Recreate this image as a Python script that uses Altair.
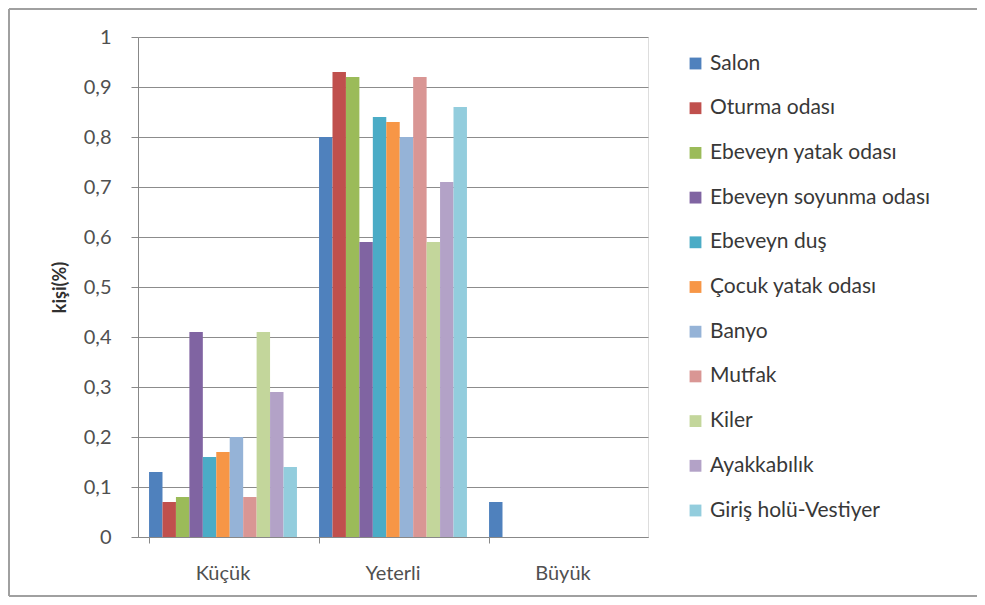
import altair as alt
import pandas as pd

categories = ["Küçük", "Yeterli", "Büyük"]
series = ["Salon", "Oturma odası", "Ebeveyn yatak odası", "Ebeveyn soyunma odası",
          "Ebeveyn duş", "Çocuk yatak odası", "Banyo", "Mutfak", "Kiler",
          "Ayakkabılık", "Giriş holü-Vestiyer"]
kucuk = [0.13, 0.07, 0.08, 0.41, 0.16, 0.17, 0.20, 0.08, 0.41, 0.29, 0.14]
yeterli = [0.80, 0.93, 0.92, 0.59, 0.84, 0.83, 0.80, 0.92, 0.59, 0.71, 0.86]
buyuk = [0.07, 0, 0, 0, 0, 0, 0, 0, 0, 0, 0]
colors = ["#4F81BD", "#C0504D", "#9BBB59", "#8064A2", "#4BACC6", "#F79646",
          "#95B3D7", "#D99694", "#C3D69B", "#B3A2C7", "#93CDDD"]
y_ticks = [0, 0.1, 0.2, 0.3, 0.4, 0.5, 0.6, 0.7, 0.8, 0.9, 1]

rows = []
for cat, vals in zip(categories, [kucuk, yeterli, buyuk]):
    for s, v in zip(series, vals):
        rows.append({"Kategori": cat, "Oda": s, "Deger": v})
df = pd.DataFrame(rows)

FONT = "Lato"

bars = alt.Chart(df).mark_bar().encode(
    x=alt.X("Kategori:N", sort=categories,
            scale=alt.Scale(paddingInner=0.13, paddingOuter=0.065),
            axis=alt.Axis(title=None, labelAngle=0, bandPosition=0,
                          domainColor="#888888", tickColor="#888888", tickSize=6,
                          labelFontSize=20, labelColor="#505050", labelFont=FONT,
                          labelPadding=20, grid=False)),
    xOffset=alt.XOffset("Oda:N", sort=series,
                        scale=alt.Scale(paddingInner=0, paddingOuter=0)),
    y=alt.Y("Deger:Q", scale=alt.Scale(domain=[0, 1]),
            axis=alt.Axis(values=y_ticks, title="kişi(%)",
                          labelExpr="replace(format(datum.value, '.1~f'), '.', ',')",
                          grid=True, gridColor="#8c8c8c", gridWidth=1,
                          domainColor="#888888", tickColor="#888888", tickSize=7,
                          labelFontSize=20, labelColor="#505050", labelFont=FONT,
                          labelPadding=20,
                          titleFont=FONT, titleFontSize=18, titleFontWeight="bold",
                          titleColor="#303030", titlePadding=14)),
    color=alt.Color("Oda:N", sort=series,
                    scale=alt.Scale(domain=series, range=colors),
                    legend=alt.Legend(title=None, orient="none", legendX=547, legendY=16,
                                      symbolType="square", symbolSize=140,
                                      symbolStrokeWidth=0,
                                      labelFontSize=21, labelFont=FONT,
                                      labelColor="#383838", rowPadding=22.7,
                                      labelOffset=4, labelLimit=400)),
)

border_df = pd.DataFrame({"a": [0]})
left = alt.Chart(border_df).mark_rule(color="#a0a0a0", strokeWidth=2).encode(
    x=alt.value(-129), y=alt.value(-28), y2=alt.value(559))
top = alt.Chart(border_df).mark_rule(color="#a0a0a0", strokeWidth=2).encode(
    x=alt.value(-129), x2=alt.value(840), y=alt.value(-28))
bottom = alt.Chart(border_df).mark_rule(color="#a0a0a0", strokeWidth=2).encode(
    x=alt.value(-129), x2=alt.value(840), y=alt.value(559))

chart = alt.layer(bars, left, top, bottom).properties(
    width=510, height=500,
    padding={"left": 130, "top": 29, "right": 329, "bottom": 60},
    autosize=alt.AutoSizeParams(type="none"),
).configure_view(stroke=None).configure(background="white")

chart.save("out.html", embed_options={"renderer": "svg", "actions": False})
